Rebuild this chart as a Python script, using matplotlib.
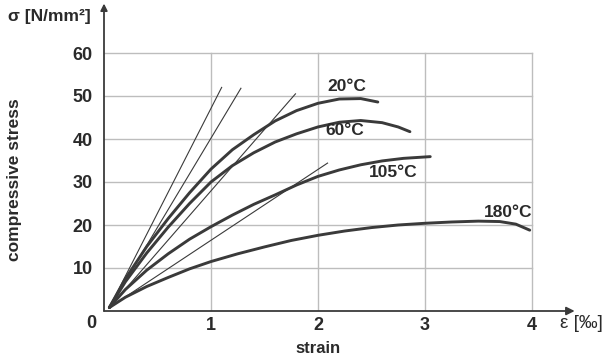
import matplotlib
matplotlib.use("Agg")
import matplotlib.pyplot as plt

# ── Daten ──────────────────────────────────────────────────────────────────
strain_20 = [0.05, 0.2, 0.4, 0.6, 0.8, 1.0, 1.2, 1.4, 1.6, 1.8, 2.0, 2.2, 2.4, 2.56]
stress_20 = [0.8, 7.5, 15.0, 21.5, 27.5, 33.0, 37.5, 41.0, 44.2, 46.6, 48.3, 49.3, 49.4, 48.6]

strain_60 = [0.05, 0.2, 0.4, 0.6, 0.8, 1.0, 1.2, 1.4, 1.6, 1.8, 2.0, 2.2, 2.4, 2.6, 2.75, 2.86]
stress_60 = [0.8, 6.8, 13.5, 19.5, 25.0, 30.0, 33.8, 36.8, 39.3, 41.2, 42.8, 43.9, 44.3, 43.8, 42.8, 41.7]

strain_105 = [0.05, 0.2, 0.4, 0.6, 0.8, 1.0, 1.2, 1.4, 1.6, 1.8, 2.0, 2.2, 2.4, 2.6, 2.8, 3.05]
stress_105 = [0.8, 5.0, 9.5, 13.3, 16.7, 19.6, 22.3, 24.8, 27.0, 29.3, 31.3, 32.8, 34.0, 34.9, 35.5, 35.9]

strain_180 = [0.05, 0.2, 0.4, 0.6, 0.8, 1.0, 1.25, 1.5, 1.75, 2.0, 2.25, 2.5, 2.75,
              3.0, 3.25, 3.5, 3.7, 3.85, 3.98]
stress_180 = [0.8, 3.2, 5.7, 7.8, 9.8, 11.5, 13.3, 14.9, 16.4, 17.6, 18.6, 19.4, 20.0,
              20.4, 20.7, 20.9, 20.8, 20.2, 18.8]

# Tangenten / Sekanten (Start, Ende)
tangent_x = [[0.05, 1.10], [0.05, 1.28], [0.05, 1.79], [0.05, 2.09]]
tangent_y = [[0.8, 52.0], [0.8, 51.8], [0.8, 50.5], [0.8, 34.4]]

curve_labels = ["20°C", "60°C", "105°C", "180°C"]
label_pos = [(2.27, 52.3), (2.25, 42.0), (2.70, 32.3), (3.78, 23.0)]

x_ticks = [1, 2, 3, 4]
y_ticks = [10, 20, 30, 40, 50, 60]

C_LINE = "#3a3a3a"
C_TEXT = "#2a2a2a"
C_GRID = "#bdbdbd"
FONT = "Liberation Sans"

fig = plt.figure(figsize=(6.1, 3.57), dpi=100)
ax = fig.add_axes([104 / 610, 46 / 357, 476 / 610, 301 / 357])
ax.set_xlim(0, 4.45)
ax.set_ylim(0, 70)

# Gitter (nur bis 4 / 60)
for xv in x_ticks:
    ax.plot([xv, xv], [0, 60], color=C_GRID, lw=1.0, zorder=1)
for yv in y_ticks:
    ax.plot([0, 4], [yv, yv], color=C_GRID, lw=1.0, zorder=1)

# Kurven
for xs, ys in [(strain_20, stress_20), (strain_60, stress_60),
               (strain_105, stress_105), (strain_180, stress_180)]:
    ax.plot(xs, ys, color=C_LINE, lw=2.1, solid_capstyle="round", zorder=3)

for xs, ys in zip(tangent_x, tangent_y):
    ax.plot(xs, ys, color=C_LINE, lw=0.8, zorder=2)

for lab, (lx, ly) in zip(curve_labels, label_pos):
    ax.text(lx, ly, lab, ha="center", va="center", fontsize=12.5,
            fontweight="bold", color=C_TEXT, fontfamily=FONT, zorder=4)

# Achsen
for s in ["top", "right", "left", "bottom"]:
    ax.spines[s].set_visible(False)
ax.annotate("", xy=(4.4, 0), xytext=(0, 0),
            arrowprops=dict(arrowstyle="-|>", color=C_LINE, lw=1.3,
                            mutation_scale=12, shrinkA=0, shrinkB=0),
            annotation_clip=False, zorder=5)
ax.annotate("", xy=(0, 71.5), xytext=(0, 0),
            arrowprops=dict(arrowstyle="-|>", color=C_LINE, lw=1.3,
                            mutation_scale=10, shrinkA=0, shrinkB=0),
            annotation_clip=False, zorder=5)

ax.set_xticks(x_ticks)
ax.set_yticks(y_ticks)
ax.tick_params(length=0, labelsize=13, colors=C_TEXT)
ax.tick_params(axis="y", pad=8)
ax.tick_params(axis="x", pad=4)
for t in ax.get_xticklabels() + ax.get_yticklabels():
    t.set_fontfamily(FONT)
    t.set_fontweight("bold")

ax.text(-0.12, -2.8, "0", ha="center", va="center", fontsize=13,
        fontweight="bold", fontfamily=FONT, color=C_TEXT)

ax.set_ylabel("compressive stress", fontsize=12.5, fontweight="bold",
              fontfamily=FONT, color=C_TEXT)
ax.yaxis.set_label_coords(-82 / 476, 0.435)
ax.set_xlabel("strain", fontsize=12, fontweight="bold",
              fontfamily=FONT, color=C_TEXT)
ax.xaxis.set_label_coords(2 / 4.45, -30 / 301)

fig.text(8 / 610, 1 - 17 / 357, "σ [N/mm²]", ha="left", va="center",
         fontsize=12.5, fontweight="bold", fontfamily=FONT, color=C_TEXT)
fig.text(560 / 610, 1 - 324 / 357, "ε [‰]", ha="left", va="center",
         fontsize=13.5, fontfamily=FONT, color=C_TEXT)

fig.savefig("out.png", dpi=100, facecolor="white")
